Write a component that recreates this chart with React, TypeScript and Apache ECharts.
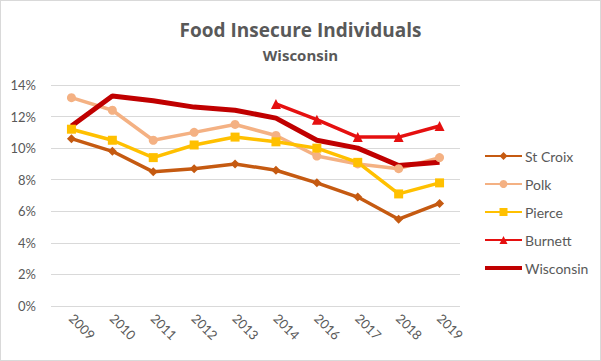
import React, { useEffect, useRef } from "react";
import * as echarts from "echarts";

const years = ["2009", "2010", "2011", "2012", "2013", "2014", "2016", "2017", "2018", "2019"];
const stCroix = [10.6, 9.8, 8.5, 8.7, 9.0, 8.6, 7.8, 6.9, 5.5, 6.5];
const polk = [13.2, 12.4, 10.5, 11.0, 11.5, 10.8, 9.5, 9.0, 8.7, 9.4];
const pierce = [11.2, 10.5, 9.4, 10.2, 10.7, 10.4, 10.0, 9.1, 7.1, 7.8];
const burnett = [null, null, null, null, null, 12.8, 11.8, 10.7, 10.7, 11.4];
const wisconsin = [11.4, 13.3, 13.0, 12.6, 12.4, 11.9, 10.5, 10.0, 8.9, 9.1];
const yTicks = [0, 2, 4, 6, 8, 10, 12, 14];

const FONT = "Lato, 'Open Sans', sans-serif";
const TFONT = "'Open Sans', sans-serif";
const TXT = "#595959";

export default function App() {
  const ref = useRef<HTMLDivElement>(null);
  useEffect(() => {
    document.body.style.margin = "0";
    const chart = echarts.init(ref.current!, null, { renderer: "svg" });
    const mk = (name: string, data: any[], color: string, symbol: string, width: number, size: number) => ({
      name,
      type: "line",
      data,
      symbol,
      symbolSize: size,
      showSymbol: symbol !== "none",
      connectNulls: false,
      lineStyle: { color, width },
      itemStyle: { color },
      emphasis: { disabled: true },
    });
    chart.setOption({
      animation: false,
      textStyle: { fontFamily: FONT },
      title: {
        text: "Food Insecure Individuals",
        subtext: "Wisconsin",
        left: "center",
        top: 15,
        itemGap: 8,
        textStyle: { fontFamily: TFONT, fontSize: 19, fontWeight: "bold", color: TXT },
        subtextStyle: { fontFamily: TFONT, fontSize: 15, fontWeight: "bold", color: TXT },
      },
      legend: {
        orient: "vertical",
        left: 484,
        top: 149,
        padding: 0,
        itemWidth: 37,
        itemHeight: 10,
        itemGap: 14,
        textStyle: { fontFamily: FONT, fontSize: 14, color: TXT, padding: [0, 0, 0, -2] },
        data: [
          "St Croix",
          "Polk",
          "Pierce",
          "Burnett",
          {
            name: "Wisconsin",
            icon: "path://M0,3 L37,3 L37,7 L0,7 Z M0,0 L0.01,0 L0,0.01 Z M0,10 L0.01,10 L0,9.99 Z",
            itemStyle: { color: "#C00000" },
          },
        ],
      },
      grid: { left: 51, right: 141, top: 85, bottom: 55, containLabel: false },
      xAxis: {
        type: "category",
        data: years,
        boundaryGap: true,
        axisLine: { show: false },
        axisTick: { show: false },
        axisLabel: {
          rotate: -45,
          fontFamily: FONT,
          fontSize: 13,
          color: TXT,
          margin: 10,
          interval: 0,
        },
      },
      yAxis: {
        type: "value",
        min: 0,
        max: 14,
        interval: 2,
        axisLine: { show: false },
        axisTick: { show: false },
        axisLabel: {
          formatter: (v: number) => (yTicks.includes(v) ? v + "%" : ""),
          fontFamily: FONT,
          fontSize: 13,
          color: TXT,
          margin: 15,
        },
        splitLine: { lineStyle: { color: "#d9d9d9", width: 1 } },
      },
      series: [
        mk("St Croix", stCroix, "#C55A11", "diamond", 3.5, 9),
        mk("Polk", polk, "#F4B183", "circle", 3.5, 9),
        mk("Pierce", pierce, "#FFC000", "rect", 3.5, 9),
        mk("Burnett", burnett, "#E51010", "triangle", 3.5, 10),
        mk("Wisconsin", wisconsin, "#C00000", "none", 5, 0),
      ],
    });
    return () => chart.dispose();
  }, []);
  return (
    <div
      style={{
        position: "absolute",
        left: 0,
        top: 0,
        width: 601,
        height: 361,
        boxSizing: "border-box",
        border: "1px solid #d9d9d9",
        background: "#fff",
      }}
    >
      <div ref={ref} style={{ position: "absolute", left: -1, top: -1, width: 601, height: 361 }} />
    </div>
  );
}
